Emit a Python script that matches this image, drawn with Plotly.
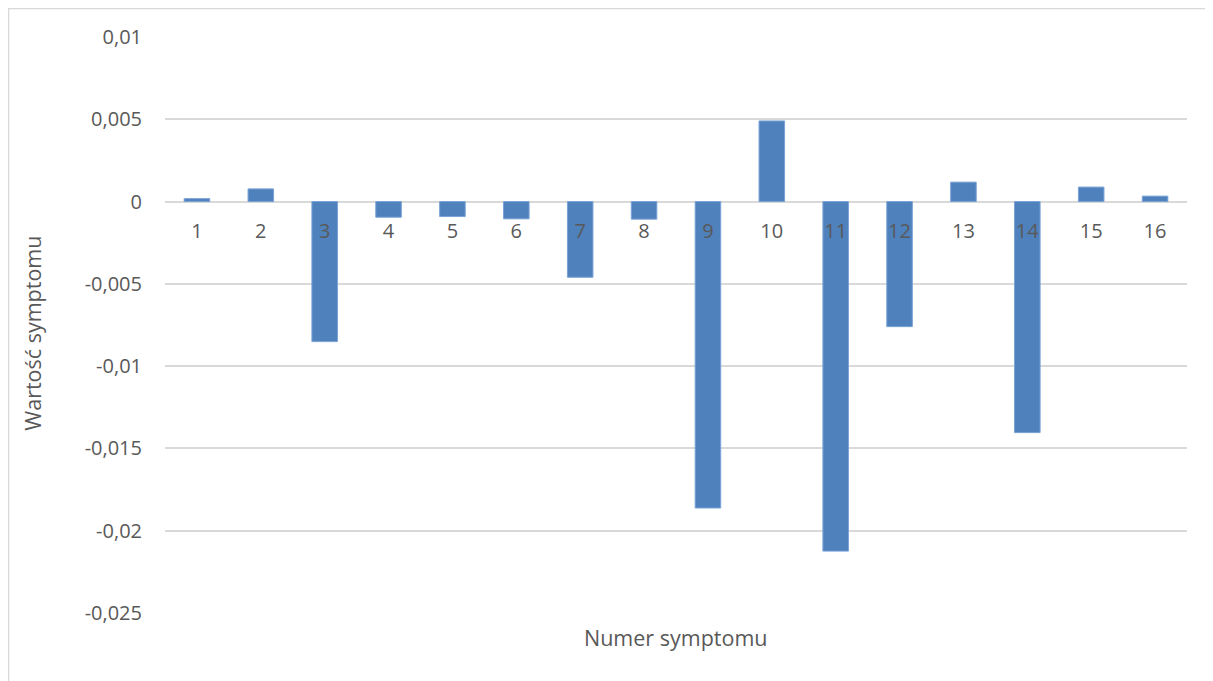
import plotly.graph_objects as go

# Numer symptomu -> wartość
symptoms = [str(i) for i in range(1, 17)]
values = [0.00018, 0.00077, -0.00851, -0.00095, -0.00091, -0.00105, -0.0046, -0.00107,
          -0.01862, 0.0049, -0.02124, -0.0076, 0.00118, -0.01404, 0.00088, 0.00033]

y_ticks = [0.01, 0.005, 0, -0.005, -0.01, -0.015, -0.02, -0.025]
y_tick_labels = ["0,01", "0,005", "0", "-0,005", "-0,01", "-0,015", "-0,02", "-0,025"]

y_min, y_max = -0.025, 0.01
font_family = "Open Sans, Noto Sans, sans-serif"
grey_text = "#595959"

fig = go.Figure()
fig.add_trace(
    go.Bar(
        x=symptoms,
        y=values,
        marker={"color": "#4F81BD", "line": {"color": "#7AA3D6", "width": 1}},
    )
)

# x axis sits on the zero line, like Excel does
zero_pos = (0 - y_min) / (y_max - y_min)

fig.update_layout(
    width=1205,
    height=673,
    margin=dict(l=157, r=26, t=29, b=68),
    paper_bgcolor="white",
    plot_bgcolor="white",
    bargap=0.6,
    showlegend=False,
    font=dict(family=font_family, size=20, color=grey_text),
    xaxis=dict(
        type="category",
        anchor="free",
        position=zero_pos,
        showgrid=False,
        showline=False,
        ticks="",
        ticklabelstandoff=15,
        tickfont=dict(size=20, color=grey_text),
    ),
    yaxis=dict(
        range=[y_min, y_max],
        tickvals=y_ticks,
        ticktext=y_tick_labels,
        showgrid=True,
        gridcolor="#D9D9D9",
        gridwidth=1.5,
        zeroline=True,
        zerolinecolor="#D9D9D9",
        zerolinewidth=1.5,
        showline=False,
        ticks="",
        ticklabelstandoff=22,
        tickfont=dict(size=20, color=grey_text),
    ),
    annotations=[
        dict(
            text="Numer symptomu",
            xref="paper", yref="paper",
            x=0.5, y=0, yshift=-24,
            xanchor="center", yanchor="middle",
            showarrow=False,
            font=dict(size=21.5, color=grey_text),
        ),
        dict(
            text="Wartość symptomu",
            xref="paper", yref="paper",
            x=0, xshift=-132, y=0.485,
            xanchor="center", yanchor="middle",
            textangle=-90,
            showarrow=False,
            font=dict(size=21.5, color=grey_text),
        ),
    ],
    shapes=[
        dict(
            type="rect", xref="paper", yref="paper",
            x0=-0.1531, x1=1.1, y0=-0.3, y1=1.0495,
            line=dict(color="#D9D9D9", width=1.5),
            fillcolor="rgba(0,0,0,0)",
            layer="below",
        )
    ],
)

fig.write_html("out.html")
